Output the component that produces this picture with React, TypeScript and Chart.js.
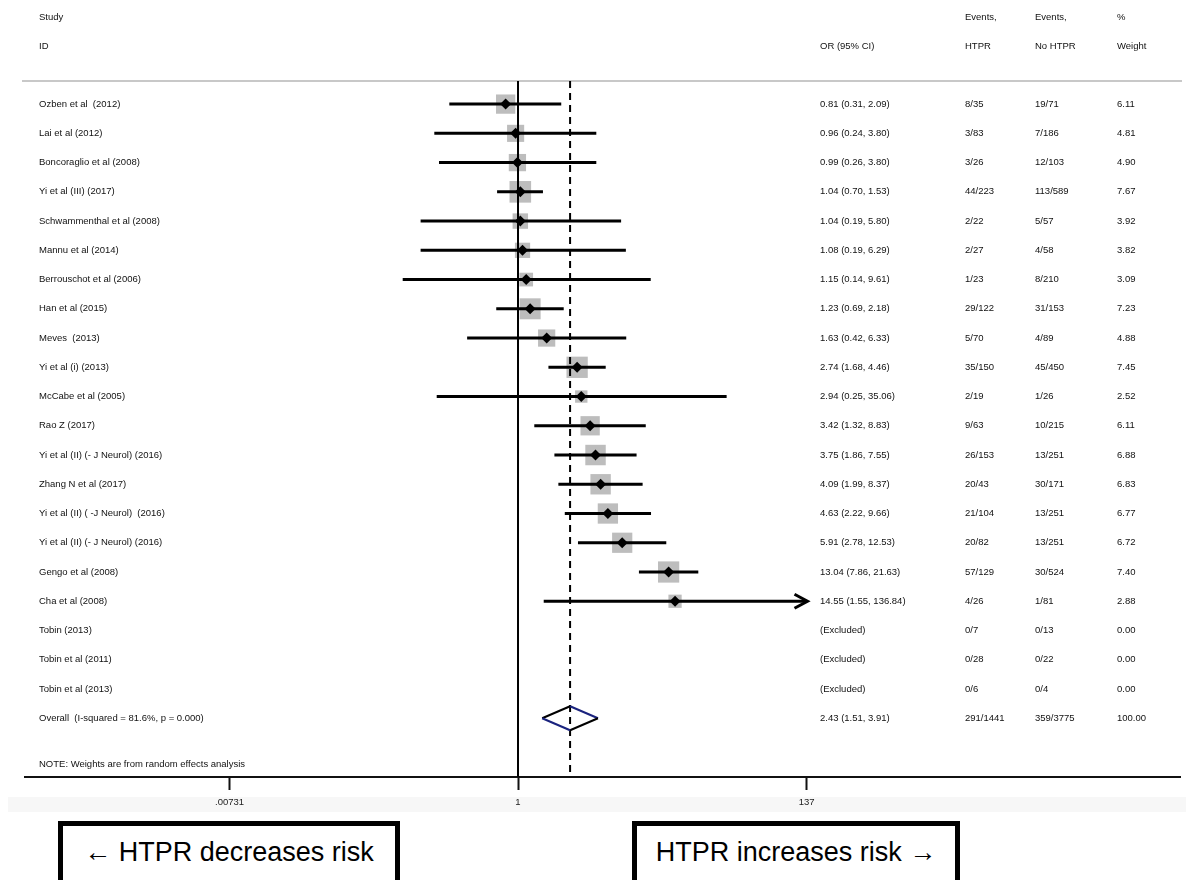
import React, { useEffect, useRef } from 'react';
import { Chart, registerables } from 'chart.js';

Chart.register(...registerables);

// ---------------- data ----------------
const STUDIES = [
  'Ozben et al  (2012)',
  'Lai et al (2012)',
  'Boncoraglio et al (2008)',
  'Yi et al (III) (2017)',
  'Schwammenthal et al (2008)',
  'Mannu et al (2014)',
  'Berrouschot et al (2006)',
  'Han et al (2015)',
  'Meves  (2013)',
  'Yi et al (i) (2013)',
  'McCabe et al (2005)',
  'Rao Z (2017)',
  'Yi et al (II) (- J Neurol) (2016)',
  'Zhang N et al (2017)',
  'Yi et al (II) ( -J Neurol)  (2016)',
  'Yi et al (II) (- J Neurol) (2016)',
  'Gengo et al (2008)',
  'Cha et al (2008)',
  'Tobin (2013)',
  'Tobin et al (2011)',
  'Tobin et al (2013)',
];
const OR = [0.81, 0.96, 0.99, 1.04, 1.04, 1.08, 1.15, 1.23, 1.63, 2.74, 2.94, 3.42, 3.75, 4.09, 4.63, 5.91, 13.04, 14.55, null, null, null];
const CI_LOW = [0.31, 0.24, 0.26, 0.70, 0.19, 0.19, 0.14, 0.69, 0.42, 1.68, 0.25, 1.32, 1.86, 1.99, 2.22, 2.78, 7.86, 1.55, null, null, null];
const CI_HIGH = [2.09, 3.80, 3.80, 1.53, 5.80, 6.29, 9.61, 2.18, 6.33, 4.46, 35.06, 8.83, 7.55, 8.37, 9.66, 12.53, 21.63, 136.84, null, null, null];
const EVENTS_HTPR = ['8/35', '3/83', '3/26', '44/223', '2/22', '2/27', '1/23', '29/122', '5/70', '35/150', '2/19', '9/63', '26/153', '20/43', '21/104', '20/82', '57/129', '4/26', '0/7', '0/28', '0/6'];
const EVENTS_NO_HTPR = ['19/71', '7/186', '12/103', '113/589', '5/57', '4/58', '8/210', '31/153', '4/89', '45/450', '1/26', '10/215', '13/251', '30/171', '13/251', '13/251', '30/524', '1/81', '0/13', '0/22', '0/4'];
const WEIGHTS = [6.11, 4.81, 4.90, 7.67, 3.92, 3.82, 3.09, 7.23, 4.88, 7.45, 2.52, 6.11, 6.88, 6.83, 6.77, 6.72, 7.40, 2.88, 0, 0, 0];

const OVERALL_LABEL = 'Overall  (I-squared = 81.6%, p = 0.000)';
const OVERALL_OR = 2.43;
const OVERALL_LOW = 1.51;
const OVERALL_HIGH = 3.91;
const OVERALL_EVENTS_HTPR = '291/1441';
const OVERALL_EVENTS_NO_HTPR = '359/3775';
const OVERALL_WEIGHT = 100.0;

const NOTE_TEXT = 'NOTE: Weights are from random effects analysis';
const HEADER_ROW1 = ['Study', '', 'Events,', 'Events,', '%'];
const HEADER_ROW2 = ['ID', 'OR (95% CI)', 'HTPR', 'No HTPR', 'Weight'];

const X_TICKS = [0.00731, 1, 137];
const X_TICK_LABELS = ['.00731', '1', '137'];

const LEFT_NOTE = '\u2190 HTPR decreases risk';
const RIGHT_NOTE = 'HTPR increases risk \u2192';

// ---------------- layout / style ----------------
const W = 1186;
const H = 815;
const AXIS_Y = 777;
const FONT = '"Liberation Sans", Arial, Helvetica, sans-serif';
const TEXT_COLOR = '#111';
const COL_X = [39, 820, 965, 1035, 1117];
const ROW_OVERALL = STUDIES.length;
const ROW_NOTE = STUDIES.length + 1.57;
const ROW_HEADER1 = -2.95;
const ROW_HEADER2 = -1.98;
const ROW_SEP = -0.79;
const Y_MIN = -3.56;
const Y_MAX = 23.01;
const X_MIN = 2.235e-4;
const X_MAX = 79800;

export default function App() {
  const canvasRef = useRef<HTMLCanvasElement | null>(null);

  useEffect(() => {
    const canvas = canvasRef.current;
    if (!canvas) return;

    const idx = STUDIES.map((_, i) => i).filter((i) => OR[i] !== null);

    const squares = idx.map((i) => ({ x: OR[i] as number, y: i }));
    const squareRadius = idx.map((i) => (7.8 * Math.sqrt(WEIGHTS[i])) / Math.SQRT2);
    const diamonds = idx.map((i) => ({ x: OR[i] as number, y: i }));
    const ciData: { x: number; y: number | null }[] = [];
    idx.forEach((i) => {
      ciData.push({ x: CI_LOW[i] as number, y: i });
      ciData.push({ x: CI_HIGH[i] as number, y: i });
      ciData.push({ x: CI_HIGH[i] as number, y: null });
    });
    const overallDiamond = [
      { x: OVERALL_LOW, y: ROW_OVERALL },
      { x: OVERALL_OR, y: ROW_OVERALL - 0.41 },
      { x: OVERALL_HIGH, y: ROW_OVERALL },
      { x: OVERALL_OR, y: ROW_OVERALL + 0.41 },
      { x: OVERALL_LOW, y: ROW_OVERALL },
    ];

    const textPlugin = {
      id: 'forestText',
      beforeDraw(chart: any) {
        const { ctx, scales } = chart;
        const xs = scales.x;
        ctx.save();
        ctx.fillStyle = '#f7f7f7';
        ctx.fillRect(8, xs.top + 20, W - 8, 15);
        ctx.restore();
      },
      beforeDatasetsDraw(chart: any) {
        const { ctx, scales } = chart;
        const ys = scales.y;
        const sy = ys.getPixelForValue(ROW_SEP);
        ctx.save();
        ctx.strokeStyle = '#c8c8c8';
        ctx.lineWidth = 2;
        ctx.beginPath();
        ctx.moveTo(22, sy);
        ctx.lineTo(1182, sy);
        ctx.stroke();
        ctx.restore();
      },
      afterDatasetsDraw(chart: any) {
        const { ctx, scales } = chart;
        const xs = scales.x;
        const ys = scales.y;
        ctx.save();
        // arrows for CIs reaching the axis limit
        ctx.strokeStyle = '#000';
        ctx.lineWidth = 3;
        ctx.lineJoin = 'miter';
        STUDIES.forEach((_, i) => {
          const hi = CI_HIGH[i];
          if (hi !== null && hi >= X_TICKS[X_TICKS.length - 1] * 0.99) {
            const px = xs.getPixelForValue(hi) + 1;
            const py = ys.getPixelForValue(i);
            ctx.beginPath();
            ctx.moveTo(px - 13, py - 7);
            ctx.lineTo(px, py);
            ctx.lineTo(px - 13, py + 7);
            ctx.stroke();
          }
        });
        // text table
        ctx.fillStyle = TEXT_COLOR;
        ctx.font = `9.5px ${FONT}`;
        ctx.textBaseline = 'middle';
        ctx.textAlign = 'left';
        const put = (t: string, col: number, row: number) => {
          if (t) ctx.fillText(t, COL_X[col], ys.getPixelForValue(row));
        };
        HEADER_ROW1.forEach((t, c) => put(t, c, ROW_HEADER1));
        HEADER_ROW2.forEach((t, c) => put(t, c, ROW_HEADER2));
        STUDIES.forEach((s, i) => {
          put(s, 0, i);
          const o = OR[i];
          put(
            o === null
              ? '(Excluded)'
              : `${o.toFixed(2)} (${(CI_LOW[i] as number).toFixed(2)}, ${(CI_HIGH[i] as number).toFixed(2)})`,
            1,
            i
          );
          put(EVENTS_HTPR[i], 2, i);
          put(EVENTS_NO_HTPR[i], 3, i);
          put(WEIGHTS[i].toFixed(2), 4, i);
        });
        put(OVERALL_LABEL, 0, ROW_OVERALL);
        put(`${OVERALL_OR.toFixed(2)} (${OVERALL_LOW.toFixed(2)}, ${OVERALL_HIGH.toFixed(2)})`, 1, ROW_OVERALL);
        put(OVERALL_EVENTS_HTPR, 2, ROW_OVERALL);
        put(OVERALL_EVENTS_NO_HTPR, 3, ROW_OVERALL);
        put(OVERALL_WEIGHT.toFixed(2), 4, ROW_OVERALL);
        put(NOTE_TEXT, 0, ROW_NOTE);
        ctx.restore();
      },
    };

    const chart = new Chart(canvas, {
      type: 'scatter',
      data: {
        datasets: [
          {
            label: 'point estimate',
            data: diamonds,
            pointStyle: 'rectRot',
            pointRadius: 5.5,
            backgroundColor: '#000',
            borderWidth: 0,
            order: 0,
          },
          {
            label: 'overall',
            data: overallDiamond,
            showLine: true,
            pointRadius: 0,
            borderWidth: 2,
            borderColor: '#000',
            tension: 0,
            fill: false,
            segment: {
              borderColor: (c: any) => (c.p0DataIndex % 2 === 0 ? '#000' : '#1a237e'),
            },
            order: 0,
          } as any,
          {
            label: 'CI',
            data: ciData,
            showLine: true,
            spanGaps: false,
            pointRadius: 0,
            borderWidth: 3,
            borderColor: '#000',
            order: 1,
          } as any,
          {
            label: 'null line',
            data: [
              { x: 1, y: ROW_SEP },
              { x: 1, y: Y_MAX },
            ],
            showLine: true,
            pointRadius: 0,
            borderWidth: 2,
            borderColor: '#000',
            order: 2,
          },
          {
            label: 'overall line',
            data: [
              { x: OVERALL_OR, y: ROW_SEP },
              { x: OVERALL_OR, y: Y_MAX },
            ],
            showLine: true,
            pointRadius: 0,
            borderWidth: 2,
            borderDash: [7, 5],
            borderColor: '#000',
            order: 2,
          },
          {
            label: 'weight',
            data: squares,
            pointStyle: 'rect',
            pointRadius: squareRadius,
            backgroundColor: '#bdbdbd',
            borderWidth: 0,
            order: 3,
          },
        ],
      },
      options: {
        animation: false,
        responsive: false,
        maintainAspectRatio: false,
        devicePixelRatio: 1,
        layout: { autoPadding: false, padding: { left: 25, right: 6, top: 0, bottom: 0 } },
        plugins: {
          legend: { display: false },
          tooltip: { enabled: false },
        },
        events: [],
        scales: {
          x: {
            type: 'logarithmic',
            position: 'bottom',
            min: X_MIN,
            max: X_MAX,
            bounds: 'data',
            afterBuildTicks: (axis: any) => {
              axis.ticks = X_TICKS.map((v) => ({ value: v }));
            },
            afterFit: (axis: any) => {
              axis.height = H - AXIS_Y;
            },
            ticks: {
              autoSkip: false,
              maxRotation: 0,
              padding: 7,
              color: '#222',
              font: { family: FONT, size: 9.5 },
              callback: (_v: any, i: number) => X_TICK_LABELS[i],
            },
            grid: {
              drawOnChartArea: false,
              drawTicks: true,
              tickLength: 13,
              tickWidth: 2,
              tickColor: '#111',
            },
            border: { display: true, color: '#111', width: 2 },
          },
          y: {
            type: 'linear',
            display: false,
            reverse: true,
            min: Y_MIN,
            max: Y_MAX,
          },
        },
      } as any,
      plugins: [textPlugin],
    });

    return () => chart.destroy();
  }, []);

  const boxStyle: React.CSSProperties = {
    position: 'absolute',
    top: 821,
    height: 80,
    boxSizing: 'border-box',
    border: '5px solid #000',
    background: '#fff',
    fontFamily: FONT,
    fontSize: 27,
    lineHeight: '32px',
    paddingTop: 10,
    textAlign: 'center',
    color: '#000',
    whiteSpace: 'nowrap',
  };

  return (
    <div style={{ position: 'absolute', left: 0, top: 0, width: W, height: 880, background: '#fff', overflow: 'hidden' }}>
      <canvas ref={canvasRef} width={W} height={H} style={{ display: 'block', width: W, height: H }} />
      <div style={{ ...boxStyle, left: 58, width: 342 }}>{LEFT_NOTE}</div>
      <div style={{ ...boxStyle, left: 632, width: 328 }}>{RIGHT_NOTE}</div>
    </div>
  );
}
